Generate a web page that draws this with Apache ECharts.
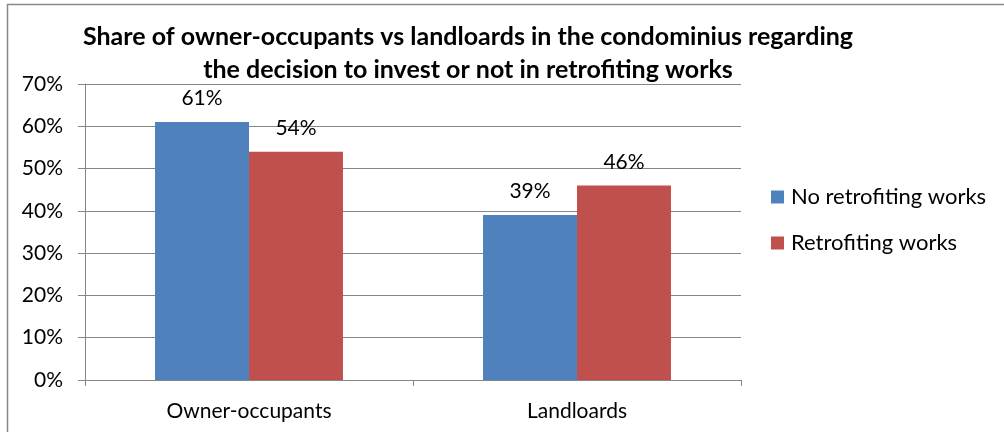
<!DOCTYPE html>
<html>
<head>
<meta charset="utf-8">
<script src="https://cdn.jsdelivr.net/npm/echarts@6/dist/echarts.min.js"></script>
<style>
  html, body { margin: 0; padding: 0; background: #fff; }
  #chart { width: 1004px; height: 432px; }
</style>
</head>
<body>
<div id="chart"></div>
<script>
// Decision to invest in retrofiting works, by household type (percent)
const categories = ['Owner-occupants', 'Landloards'];
const noRetrofit = [61, 39];
const retrofit = [54, 46];
const seriesNames = ['No retrofiting works', 'Retrofiting works'];
const yTicks = [0, 10, 20, 30, 40, 50, 60, 70];

const FONT = 'Lato, "Open Sans", sans-serif';
const chart = echarts.init(document.getElementById('chart'));

const labelStyle = {
  show: true,
  position: 'top',
  distance: 13,
  formatter: p => p.value + '%',
  color: '#000',
  fontFamily: FONT,
  fontSize: 21
};

chart.setOption({
  animation: false,
  backgroundColor: '#fff',
  title: {
    text: 'Share of owner-occupants vs landloards in the condominius regarding\nthe decision to invest or not in retrofiting works',
    left: 468,
    textAlign: 'center',
    top: 20,
    padding: 0,
    textStyle: {
      fontFamily: FONT,
      fontWeight: 'bold',
      fontSize: 25,
      lineHeight: 33,
      color: '#000'
    }
  },
  legend: {
    orient: 'vertical',
    left: 771,
    top: 185,
    padding: 0,
    itemWidth: 13,
    itemHeight: 13,
    itemGap: 22,
    icon: 'rect',
    textStyle: { fontFamily: FONT, fontSize: 22, lineHeight: 24, color: '#000', padding: [0, 0, 0, 2] },
    data: seriesNames
  },
  grid: { left: 85, right: 263, top: 84, bottom: 52, containLabel: false },
  xAxis: {
    type: 'category',
    data: categories,
    axisLine: { lineStyle: { color: '#868686', width: 1 } },
    axisTick: { show: true, length: 6, lineStyle: { color: '#868686' } },
    axisLabel: { fontFamily: FONT, fontSize: 21, color: '#000', margin: 21 }
  },
  yAxis: {
    type: 'value',
    min: yTicks[0],
    max: yTicks[yTicks.length - 1],
    interval: 10,
    axisLine: { show: true, lineStyle: { color: '#868686', width: 1 } },
    axisTick: { show: true, length: 7, lineStyle: { color: '#868686' } },
    splitLine: { lineStyle: { color: '#868686', width: 1 } },
    axisLabel: {
      formatter: v => v + '%',
      fontFamily: FONT,
      fontSize: 21,
      color: '#000',
      margin: 22
    }
  },
  series: [
    {
      name: seriesNames[0],
      type: 'bar',
      data: noRetrofit,
      barGap: '0%',
      barCategoryGap: '42.7%',
      itemStyle: { color: '#4F81BD' },
      label: labelStyle
    },
    {
      name: seriesNames[1],
      type: 'bar',
      data: retrofit,
      itemStyle: { color: '#C0504D' },
      label: labelStyle
    }
  ],
  graphic: [{
    type: 'rect',
    shape: { x: 7.5, y: 4.5, width: 1010, height: 440 },
    style: { fill: 'none', stroke: '#888', lineWidth: 1.5 },
    silent: true
  }]
});
</script>
</body>
</html>
